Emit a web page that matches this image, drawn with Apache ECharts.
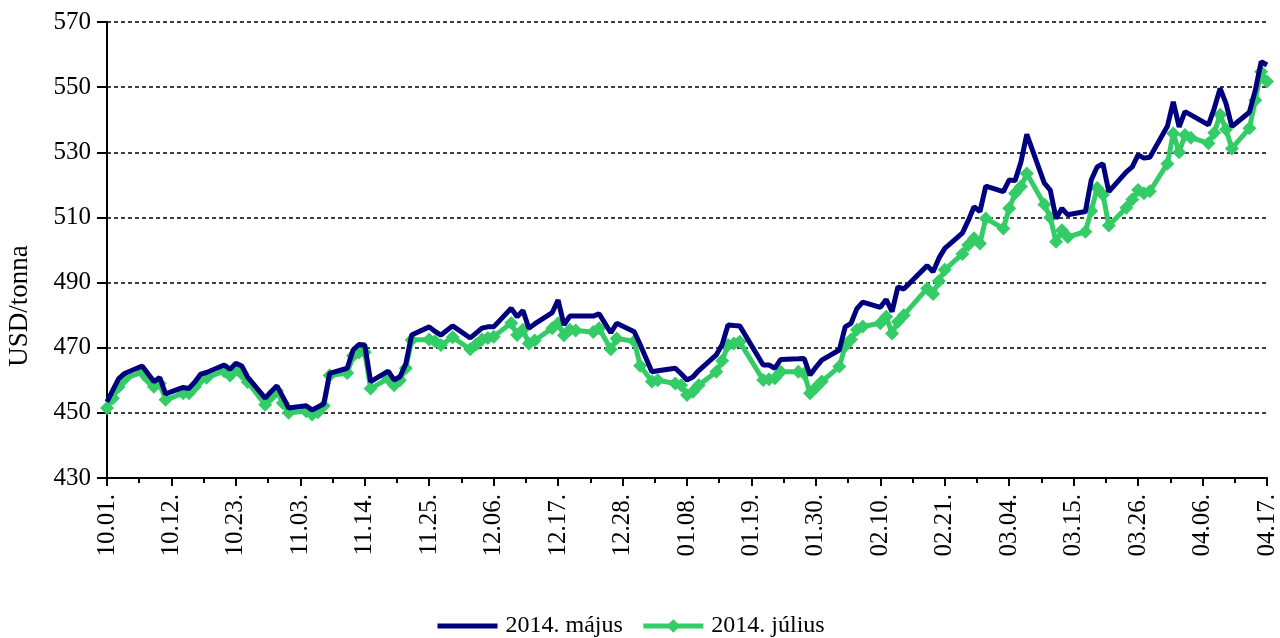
<!DOCTYPE html>
<html>
<head>
<meta charset="utf-8">
<script src="https://cdn.jsdelivr.net/npm/echarts@6/dist/echarts.min.js"></script>
<style>
html,body{margin:0;padding:0;background:#fff;}
#chart{width:1280px;height:638px;}
</style>
</head>
<body>
<div id="chart"></div>
<script>
// Trading days (Oct 2013 - Apr 2014)
const dates = [
'2013-10-01','2013-10-02','2013-10-03','2013-10-04','2013-10-07','2013-10-08','2013-10-09','2013-10-10','2013-10-11',
'2013-10-14','2013-10-15','2013-10-16','2013-10-17','2013-10-18','2013-10-21','2013-10-22','2013-10-23','2013-10-24','2013-10-25',
'2013-10-28','2013-10-29','2013-10-30','2013-10-31','2013-11-01','2013-11-04','2013-11-05','2013-11-06','2013-11-07','2013-11-08',
'2013-11-11','2013-11-12','2013-11-13','2013-11-14','2013-11-15','2013-11-18','2013-11-19','2013-11-20','2013-11-21','2013-11-22',
'2013-11-25','2013-11-26','2013-11-27','2013-11-29','2013-12-02','2013-12-03','2013-12-04','2013-12-05','2013-12-06',
'2013-12-09','2013-12-10','2013-12-11','2013-12-12','2013-12-13','2013-12-16','2013-12-17','2013-12-18','2013-12-19','2013-12-20',
'2013-12-23','2013-12-24','2013-12-26','2013-12-27','2013-12-30','2013-12-31','2014-01-02','2014-01-03',
'2014-01-06','2014-01-07','2014-01-08','2014-01-09','2014-01-10','2014-01-13','2014-01-14','2014-01-15','2014-01-16','2014-01-17',
'2014-01-21','2014-01-22','2014-01-23','2014-01-24','2014-01-27','2014-01-28','2014-01-29','2014-01-30','2014-01-31',
'2014-02-03','2014-02-04','2014-02-05','2014-02-06','2014-02-07','2014-02-10','2014-02-11','2014-02-12','2014-02-13','2014-02-14',
'2014-02-18','2014-02-19','2014-02-20','2014-02-21','2014-02-24','2014-02-25','2014-02-26','2014-02-27','2014-02-28',
'2014-03-03','2014-03-04','2014-03-05','2014-03-06','2014-03-07','2014-03-10','2014-03-11','2014-03-12','2014-03-13','2014-03-14',
'2014-03-17','2014-03-18','2014-03-19','2014-03-20','2014-03-21','2014-03-24','2014-03-25','2014-03-26','2014-03-27','2014-03-28',
'2014-03-31','2014-04-01','2014-04-02','2014-04-03','2014-04-04','2014-04-07','2014-04-08','2014-04-09','2014-04-10','2014-04-11',
'2014-04-14','2014-04-15','2014-04-16','2014-04-17'
];

// 2014. május (USD/tonna)
const mayValues = [
453.4,457,460.5,462.1,464.4,462,459.6,460.8,455.8,
457.8,457.5,459.5,461.9,462.4,464.7,463.4,465.2,464.4,461,
454.5,456.5,458.3,455,451.5,452.2,450.9,451.8,452.7,462.1,
463.7,469.3,471,470.8,459.6,462.8,460.1,461.1,465,473.9,
476.4,475,473.9,476.7,473,474.5,476,476.4,476.4,
482.1,479.5,481.4,476,477.3,480.8,484.6,477,479.7,479.7,
479.7,480.4,474.6,477.5,474.9,471,462.6,462.9,
463.7,462,460.1,461,463,467.8,471,477,476.8,476.7,
464.7,464.7,463.7,466.4,466.6,466.7,461.6,464,466.2,
469.3,476.4,477.5,482,484,482.4,484.8,481.1,488.7,488,
495.2,493.3,497.5,500.5,505.2,509,513.3,511.8,519.6,
517.9,521.5,521.3,527,535.5,520.5,518.4,509.7,512.8,510.8,
511.8,521.5,525.5,526.5,517.9,524,525.5,529.2,528.2,528.5,
538,545.5,537.8,542.5,541.5,538.4,543.5,549.6,545,537.9,
542.3,549,557.8,556.8
];

// 2014. július (USD/tonna)
const julyValues = [
451.5,454.5,458,460.5,462.5,460.5,458,459,454,
456,456,458,460.3,460.8,462.8,461.5,463.5,462,459.5,
452.5,455,456.8,453,450,450.5,449.5,450.2,452.2,461.5,
462.2,467.5,468.5,468.6,457.5,460.5,458.5,460,463.7,472.4,
472.5,472,470.8,473.2,469.5,471,472.5,473,473.4,
477.6,473.9,475.5,471.3,472.2,476,477.5,473.8,475.5,475.3,
474.8,476,469.5,472.8,472,464.5,459.6,460,
459,458.5,455.5,456.5,458.5,462.6,466,470.8,471.3,471.8,
460.1,460.3,460.6,462.6,462.6,462,456,457.8,459.6,
464.2,470.5,472.5,475.5,476.5,477.5,479.5,474.4,478,480,
488.2,486.5,490.5,493.9,498.8,501.5,503.6,502,509.7,
506.6,512.8,517.4,519.5,523.5,514,510,502.5,506.1,504,
505.6,512,519,517,507.5,513,515.5,518.4,517.4,518,
526.5,535.8,530,535.3,534.5,532.8,536,541.5,537,531.2,
537.4,546,554.7,551.7
];

const seriesNames = ['2014. május', '2014. július'];
const yAxisTitle = 'USD/tonna';

const BASE = Date.UTC(2013, 9, 1);
const DAY = 86400000;
function dayIndex(s) {
  const p = s.split('-').map(Number);
  return Math.round((Date.UTC(p[0], p[1] - 1, p[2]) - BASE) / DAY);
}
function labelFor(v) {
  const d = new Date(BASE + v * DAY);
  const mm = String(d.getUTCMonth() + 1).padStart(2, '0');
  const dd = String(d.getUTCDate()).padStart(2, '0');
  return mm + '.' + dd + '.';
}
const lastDay = dayIndex(dates[dates.length - 1]);

const FONT = 'Liberation Serif';
const NAVY = '#00007f';
const GREEN = '#33cc66';
const chart = echarts.init(document.getElementById('chart'), null, {renderer: 'canvas'});
chart.setOption({
  animation: false,
  backgroundColor: '#ffffff',
  grid: {left: 107, right: 13, top: 22, bottom: 160, containLabel: false},
  legend: {
    data: [
      {name: seriesNames[0], itemStyle: {opacity: 0}},
      {name: seriesNames[1]}
    ],
    top: 614,
    left: 435,
    padding: 0,
    itemWidth: 60,
    itemHeight: 17,
    itemGap: 18,
    lineStyle: {width: 5},
    textStyle: {fontFamily: FONT, fontSize: 24, color: '#000', padding: [0, 0, 0, 3]}
  },
  xAxis: {
    type: 'value',
    min: 0,
    max: lastDay,
    interval: 11,
    axisLine: {show: true, lineStyle: {color: '#000', width: 2}},
    axisTick: {show: true, length: 8, lineStyle: {color: '#000', width: 2}},
    minorTick: {show: true, splitNumber: 2, length: 5, lineStyle: {color: '#000', width: 2}},
    splitLine: {show: false},
    axisLabel: {
      rotate: 90, margin: 16, color: '#000', fontFamily: FONT, fontSize: 25,
      formatter: labelFor
    }
  },
  yAxis: {
    type: 'value',
    min: 430,
    max: 570,
    interval: 20,
    axisLine: {show: true, lineStyle: {color: '#000', width: 2}},
    axisTick: {show: true, length: 10, lineStyle: {color: '#000', width: 2}},
    splitLine: {show: true, lineStyle: {color: '#000', width: 1.5, type: [4, 3]}},
    axisLabel: {margin: 16, color: '#000', fontFamily: FONT, fontSize: 25}
  },
  graphic: [{
    type: 'text',
    x: 20, y: 306,
    rotation: Math.PI / 2,
    style: {text: yAxisTitle, fontFamily: FONT, fontSize: 27, fill: '#000', align: 'center', verticalAlign: 'middle'}
  }],
  series: [
    {
      name: seriesNames[0],
      type: 'line',
      z: 3,
      data: dates.map((s, i) => [dayIndex(s), mayValues[i]]),
      showSymbol: false,
      symbol: 'none',
      lineStyle: {color: NAVY, width: 5},
      itemStyle: {color: NAVY}
    },
    {
      name: seriesNames[1],
      type: 'line',
      z: 2,
      data: dates.map((s, i) => [dayIndex(s), julyValues[i]]),
      symbol: 'diamond',
      symbolSize: 14,
      lineStyle: {color: GREEN, width: 5},
      itemStyle: {color: GREEN}
    }
  ]
});
</script>
</body>
</html>
